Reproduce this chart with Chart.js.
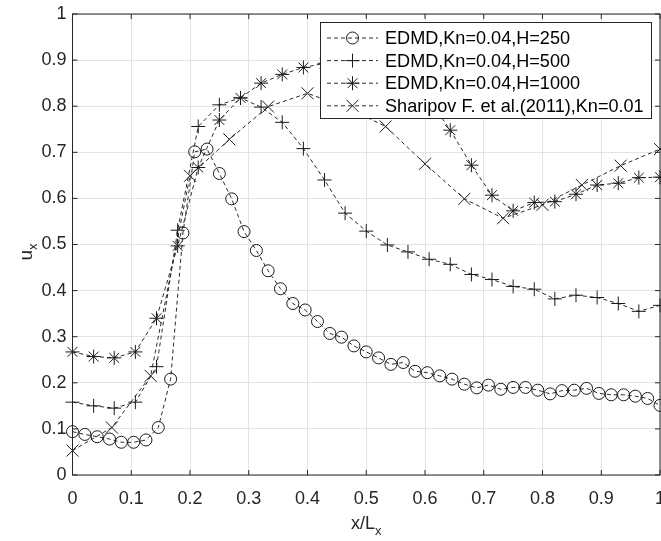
<!DOCTYPE html>
<html><head><meta charset="utf-8">
<script src="https://cdn.jsdelivr.net/npm/chart.js@4"></script>
<style>html,body{margin:0;padding:0;background:#fff}#wrap{width:661px;height:541px;position:relative}</style>
</head><body><div id="wrap"><canvas id="c" width="661" height="541"></canvas></div>
<script>
const xTickValues = [0,0.1,0.2,0.3,0.4,0.5,0.6,0.7,0.8,0.9,1];
const xTickLabels = ['0','0.1','0.2','0.3','0.4','0.5','0.6','0.7','0.8','0.9','1'];
const yTickValues = [0,0.1,0.2,0.3,0.4,0.5,0.6,0.7,0.8,0.9,1];
const yTickLabels = ['0','0.1','0.2','0.3','0.4','0.5','0.6','0.7','0.8','0.9','1'];
const seriesLabels = ['EDMD,Kn=0.04,H=250','EDMD,Kn=0.04,H=500','EDMD,Kn=0.04,H=1000','Sharipov F. et al.(2011),Kn=0.01'];
const xTitle = 'x/L', xTitleSub = 'x';
const yTitle = 'u', yTitleSub = 'x';

const x250 = [0,0.021,0.042,0.063,0.083,0.104,0.125,0.146,0.167,0.188,0.208,0.229,0.25,0.271,0.292,0.313,0.333,0.354,0.375,0.396,0.417,0.438,0.458,0.479,0.5,0.521,0.542,0.563,0.583,0.604,0.625,0.646,0.667,0.688,0.708,0.729,0.75,0.771,0.792,0.813,0.833,0.854,0.875,0.896,0.917,0.938,0.958,0.979,1.0];
const y250 = [0.094,0.088,0.083,0.078,0.071,0.071,0.076,0.103,0.208,0.525,0.701,0.707,0.654,0.599,0.528,0.487,0.443,0.404,0.372,0.358,0.333,0.307,0.299,0.280,0.267,0.254,0.240,0.244,0.225,0.222,0.215,0.208,0.197,0.189,0.195,0.186,0.190,0.190,0.184,0.176,0.183,0.184,0.188,0.177,0.174,0.174,0.171,0.166,0.151];
const x500 = [0,0.036,0.071,0.107,0.143,0.179,0.214,0.25,0.286,0.321,0.357,0.393,0.429,0.464,0.5,0.536,0.571,0.607,0.643,0.679,0.714,0.75,0.786,0.821,0.857,0.893,0.929,0.964,1.0];
const y500 = [0.158,0.150,0.145,0.158,0.235,0.531,0.756,0.803,0.818,0.798,0.765,0.708,0.640,0.568,0.529,0.499,0.484,0.468,0.457,0.435,0.424,0.409,0.403,0.382,0.390,0.385,0.372,0.355,0.368];
const x1000 = [0,0.036,0.071,0.107,0.143,0.179,0.214,0.25,0.286,0.321,0.357,0.393,0.429,0.464,0.5,0.536,0.571,0.607,0.643,0.679,0.714,0.75,0.786,0.821,0.857,0.893,0.929,0.964,1.0];
const y1000 = [0.267,0.257,0.254,0.267,0.340,0.497,0.667,0.770,0.818,0.850,0.869,0.884,0.893,0.897,0.895,0.882,0.858,0.815,0.748,0.672,0.607,0.573,0.591,0.593,0.609,0.629,0.633,0.645,0.646];
const xShar = [0,0.067,0.133,0.2,0.267,0.333,0.4,0.467,0.533,0.6,0.667,0.733,0.8,0.867,0.933,1.0];
const yShar = [0.053,0.103,0.215,0.649,0.728,0.799,0.828,0.797,0.756,0.675,0.599,0.557,0.586,0.629,0.671,0.707];

const FONT = 'Liberation Sans, Arial, sans-serif';
const FS = 18;
const TXT = '#262626';
const pts = (xs, ys) => xs.map((v, i) => ({x: v, y: ys[i]}));
const markers = [
  {style:'circle', r:6},
  {style:'cross', r:7},
  {style:'star', r:7},
  {style:'crossRot', r:8.5}
];
const seriesData = [pts(x250,y250), pts(x500,y500), pts(x1000,y1000), pts(xShar,yShar)];

const datasets = seriesData.map((d, i) => ({
  label: seriesLabels[i],
  data: d,
  showLine: true,
  borderColor: '#2b2b2b',
  borderWidth: 1,
  borderDash: [4, 3],
  pointStyle: markers[i].style,
  pointRadius: markers[i].r,
  pointHoverRadius: markers[i].r,
  pointBorderColor: '#1a1a1a',
  pointBackgroundColor: 'rgba(0,0,0,0)',
  pointBorderWidth: 1,
  fill: false,
  tension: 0,
  clip: false
}));

const PLOT = {left: 72.5, right: 660, top: 14, bottom: 475};

const areaFix = {
  id: 'areaFix',
  afterLayout(chart) {
    const ca = chart.chartArea;
    ca.left = PLOT.left; ca.right = PLOT.right; ca.top = PLOT.top; ca.bottom = PLOT.bottom;
    ca.width = ca.right - ca.left; ca.height = ca.bottom - ca.top;
    const x = chart.scales.x, y = chart.scales.y;
    x.left = PLOT.left; x.right = PLOT.right; x.width = PLOT.right - PLOT.left;
    x.top = PLOT.bottom; x.bottom = 541; x.height = 541 - PLOT.bottom;
    y.top = PLOT.top; y.bottom = PLOT.bottom; y.height = PLOT.bottom - PLOT.top;
    y.left = 0; y.right = PLOT.left; y.width = PLOT.left;
    x.configure(); y.configure();
  }
};

const overlay = {
  id: 'overlay',
  afterDraw(chart) {
    const {ctx, chartArea: a, scales: {x, y}} = chart;
    ctx.save();
    ctx.strokeStyle = '#262626';
    ctx.lineWidth = 1;
    ctx.setLineDash([]);
    ctx.strokeRect(a.left, a.top, a.right - a.left, a.bottom - a.top);
    const tl = 5;
    ctx.beginPath();
    xTickValues.forEach(v => {
      const p = x.getPixelForValue(v);
      ctx.moveTo(p, a.bottom); ctx.lineTo(p, a.bottom - tl);
      ctx.moveTo(p, a.top); ctx.lineTo(p, a.top + tl);
    });
    yTickValues.forEach(v => {
      const p = y.getPixelForValue(v);
      ctx.moveTo(a.left, p); ctx.lineTo(a.left + tl, p);
      ctx.moveTo(a.right, p); ctx.lineTo(a.right - tl, p);
    });
    ctx.stroke();

    ctx.fillStyle = TXT;
    ctx.textBaseline = 'alphabetic';
    ctx.textAlign = 'left';
    ctx.font = FS + 'px ' + FONT;
    const w1 = ctx.measureText(xTitle).width;
    ctx.font = '13px ' + FONT;
    const w2 = ctx.measureText(xTitleSub).width;
    const cx = (a.left + a.right) / 2;
    const sx = cx - (w1 + w2) / 2;
    ctx.font = FS + 'px ' + FONT;
    ctx.fillText(xTitle, sx, 529);
    ctx.font = '13px ' + FONT;
    ctx.fillText(xTitleSub, sx + w1, 535);

    ctx.save();
    ctx.translate(32, 252);
    ctx.rotate(-Math.PI / 2);
    ctx.font = '19px ' + FONT;
    const u1 = ctx.measureText(yTitle).width;
    ctx.font = '13px ' + FONT;
    const u2 = ctx.measureText(yTitleSub).width;
    const s0 = -(u1 + u2) / 2;
    ctx.font = '19px ' + FONT;
    ctx.fillText(yTitle, s0, 0);
    ctx.font = '13px ' + FONT;
    ctx.fillText(yTitleSub, s0 + u1, 5);
    ctx.restore();

    const L = {x: 320.5, y: 22.5, w: 331, h: 96};
    ctx.fillStyle = '#ffffff';
    ctx.fillRect(L.x, L.y, L.w, L.h);
    ctx.strokeStyle = '#262626';
    ctx.lineWidth = 1;
    ctx.strokeRect(L.x, L.y, L.w, L.h);
    const rowY = [38, 60.6, 83.2, 105.8];
    datasets.forEach((ds, i) => {
      const ry = rowY[i];
      ctx.strokeStyle = '#2b2b2b';
      ctx.setLineDash([4, 3]);
      ctx.beginPath();
      ctx.moveTo(327, ry); ctx.lineTo(378, ry);
      ctx.stroke();
      ctx.setLineDash([]);
      ctx.strokeStyle = '#1a1a1a';
      ctx.fillStyle = 'rgba(0,0,0,0)';
      ctx.lineWidth = 1;
      Chart.helpers.drawPoint(ctx, {pointStyle: ds.pointStyle, radius: ds.pointRadius, borderWidth: 1, rotation: 0}, 352.5, ry);
      ctx.fillStyle = '#000';
      ctx.font = '18.1px ' + FONT;
      ctx.textBaseline = 'middle';
      ctx.fillText(ds.label, 385, ry + 1);
    });
    ctx.restore();
  }
};

new Chart(document.getElementById('c'), {
  type: 'scatter',
  data: {datasets},
  options: {
    responsive: false,
    animation: false,
    devicePixelRatio: 1,
    layout: {padding: {top: 14, right: 1, left: 0, bottom: 0}},
    plugins: {legend: {display: false}, tooltip: {enabled: false}},
    scales: {
      x: {
        type: 'linear', min: 0, max: 1,
        afterBuildTicks: s => { s.ticks = xTickValues.map(v => ({value: v})); },
        afterFit: s => { s.height = 66; s.paddingRight = 0; s.paddingLeft = 0; },
        ticks: {
          callback: (v) => xTickLabels[xTickValues.indexOf(v)] ?? '',
          color: TXT, font: {family: FONT, size: FS}, padding: 13, maxRotation: 0, autoSkip: false
        },
        grid: {color: '#e3e3e3', drawTicks: false, lineWidth: 1},
        border: {display: false}
      },
      y: {
        type: 'linear', min: 0, max: 1,
        afterBuildTicks: s => { s.ticks = yTickValues.map(v => ({value: v})); },
        afterFit: s => { s.width = 72.5; s.paddingTop = 0; s.paddingBottom = 0; },
        ticks: {
          callback: (v) => yTickLabels[yTickValues.indexOf(v)] ?? '',
          color: TXT, font: {family: FONT, size: FS}, padding: 6, autoSkip: false
        },
        grid: {color: '#e3e3e3', drawTicks: false, lineWidth: 1},
        border: {display: false}
      }
    }
  },
  plugins: [areaFix, overlay]
});
</script>
</body></html>
